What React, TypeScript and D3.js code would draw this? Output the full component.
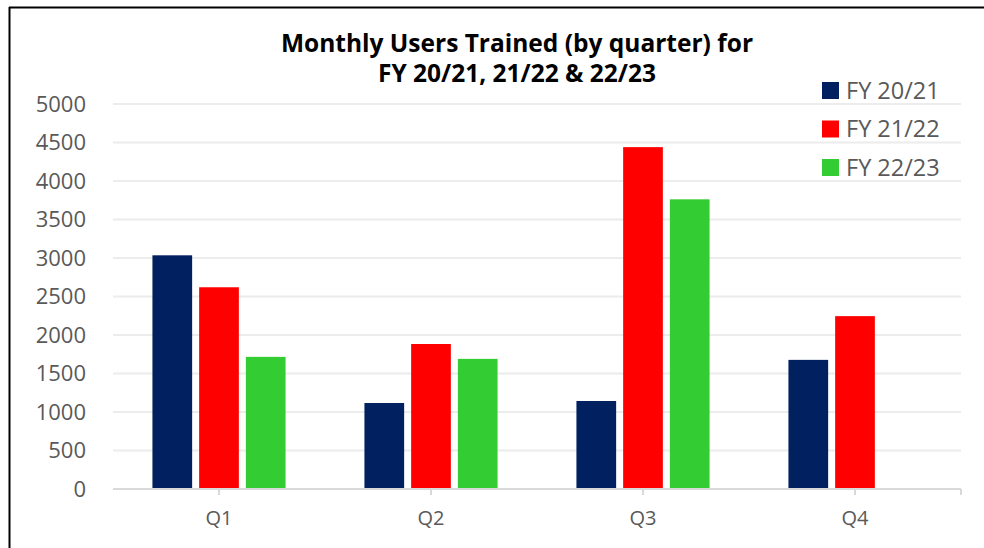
import React from "react";
import * as d3 from "d3";

const quarters = ["Q1", "Q2", "Q3", "Q4"];
const seriesNames = ["FY 20/21", "FY 21/22", "FY 22/23"];
const fy2021 = [3035, 1117, 1143, 1677];
const fy2122 = [2620, 1883, 4440, 2245];
const fy2223 = [1716, 1690, 3762, null];
const yTicks = [0, 500, 1000, 1500, 2000, 2500, 3000, 3500, 4000, 4500, 5000];
const colors = ["#002060", "#ff0000", "#33cc33"];
const titleLines = ["Monthly Users Trained (by quarter) for", "FY 20/21, 21/22 & 22/23"];

const W = 984;
const H = 548;
const left = 113;
const right = 961;
const top = 104;
const bottom = 489;

export default function App() {
  const series = [fy2021, fy2122, fy2223];
  const x = d3.scaleBand<string>().domain(quarters).range([left, right]).paddingInner(0.372).paddingOuter(0.186);
  const x1 = d3.scaleBand<string>().domain(seriesNames).range([0, x.bandwidth()]).paddingInner(0.15);
  const y = d3.scaleLinear().domain([0, 5000]).range([bottom, top]);
  const font = "'Open Sans', 'Liberation Sans', sans-serif";

  return (
    <svg width={W} height={H} style={{ position: "absolute", left: 0, top: 0, background: "#fff" }} fontFamily={font}>
      <rect x={0} y={0} width={W} height={H} fill="#fff" />
      <line x1={9.5} y1={7} x2={9.5} y2={H} stroke="#000" strokeWidth={2} />
      <line x1={9} y1={7.5} x2={W} y2={7.5} stroke="#000" strokeWidth={2} />

      {titleLines.map((t, i) => (
        <text key={i} x={517} y={52 + i * 30} textAnchor="middle" fontSize={24.5} fontWeight="bold" fill="#000">
          {t}
        </text>
      ))}

      {yTicks.map((v) => (
        <g key={v}>
          {v > 0 && <line x1={left} x2={right} y1={y(v)} y2={y(v)} stroke="#ececec" strokeWidth={2} />}
          <text x={86} y={y(v)} dy="0.35em" textAnchor="end" fontSize={22} fill="#595959">
            {v}
          </text>
        </g>
      ))}

      {quarters.map((q, qi) => (
        <g key={q}>
          {series.map((s, si) => {
            const v = s[qi];
            if (v == null) return null;
            const bx = (x(q) as number) + (x1(seriesNames[si]) as number);
            return <rect key={si} x={bx} y={y(v)} width={x1.bandwidth()} height={bottom - y(v)} fill={colors[si]} />;
          })}
        </g>
      ))}

      <line x1={left} x2={right} y1={bottom} y2={bottom} stroke="#d9d9d9" strokeWidth={2} />
      {quarters.map((q) => {
        const cx = (x(q) as number) + x.bandwidth() / 2;
        return (
          <g key={q}>
            <line x1={cx} x2={cx} y1={bottom} y2={bottom + 6} stroke="#d9d9d9" strokeWidth={2} />
            <text x={cx} y={518} dy="0.35em" textAnchor="middle" fontSize={20} fill="#595959">
              {q}
            </text>
          </g>
        );
      })}
      <line x1={right} x2={right} y1={bottom} y2={bottom + 6} stroke="#d9d9d9" strokeWidth={2} />

      {seriesNames.map((n, i) => (
        <g key={n}>
          <rect x={822} y={82 + i * 38.5} width={17} height={17} fill={colors[i]} />
          <text x={846} y={90.5 + i * 38.5} dy="0.35em" fontSize={23.5} fill="#595959">
            {n}
          </text>
        </g>
      ))}
    </svg>
  );
}
